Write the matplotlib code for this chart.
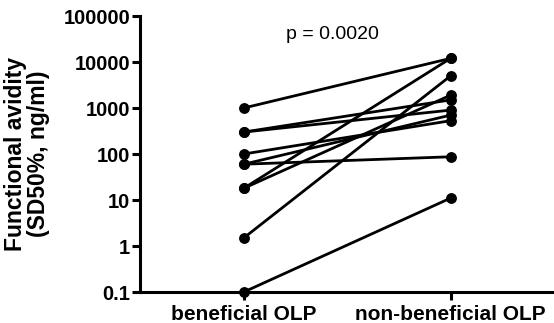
import matplotlib
matplotlib.use("Agg")
import matplotlib.pyplot as plt
from matplotlib.ticker import FixedLocator, NullLocator

categories = ["beneficial OLP", "non-beneficial OLP"]
beneficial = [1000, 300, 300, 100, 60, 60, 18, 18, 1.5, 0.1]
non_beneficial = [12000, 1500, 900, 530, 87, 700, 12000, 1900, 5000, 11]
y_ticks = [0.1, 1, 10, 100, 1000, 10000, 100000]
y_tick_labels = ["0.1", "1", "10", "100", "1000", "10000", "100000"]
p_text = "p = 0.0020"

plt.rcParams['font.family'] = ['Liberation Sans', 'DejaVu Sans']

fig = plt.figure(figsize=(5.54, 3.23), dpi=100)
ax = fig.add_axes([140/554, 1-292/323, 1-140/554, (292-16)/323])

for a, b in zip(beneficial, non_beneficial):
    ax.plot([0, 1], [a, b], color='black', lw=2.0, marker='o', markersize=6.8,
            solid_capstyle='round', clip_on=False, zorder=3)

ax.set_yscale('log')
ax.set_ylim(0.1, 100000)
ax.set_xlim(-0.502, 1.5)
ax.yaxis.set_major_locator(FixedLocator(y_ticks))
ax.yaxis.set_minor_locator(NullLocator())
ax.set_yticklabels(y_tick_labels, fontsize=14.5, fontweight='bold')
ax.set_xticks([0, 1])
ax.set_xticklabels(categories, fontsize=15, fontweight='bold')

for s in ['top', 'right']:
    ax.spines[s].set_visible(False)
for s in ['left', 'bottom']:
    ax.spines[s].set_linewidth(2.2)
ax.tick_params(axis='both', which='major', width=2.2, length=6, direction='out', pad=1)
ax.tick_params(axis='x', pad=3)

ax.set_ylabel("Functional avidity\n(SD50%, ng/ml)", fontsize=16.5, fontweight='bold',
              linespacing=0.95, va='center')
ax.yaxis.set_label_coords((27 - 140) / 414, 0.5)

ax.text(0.43, 40000, p_text, fontsize=14, ha='center', va='center')

fig.savefig("out.png", dpi=100)
